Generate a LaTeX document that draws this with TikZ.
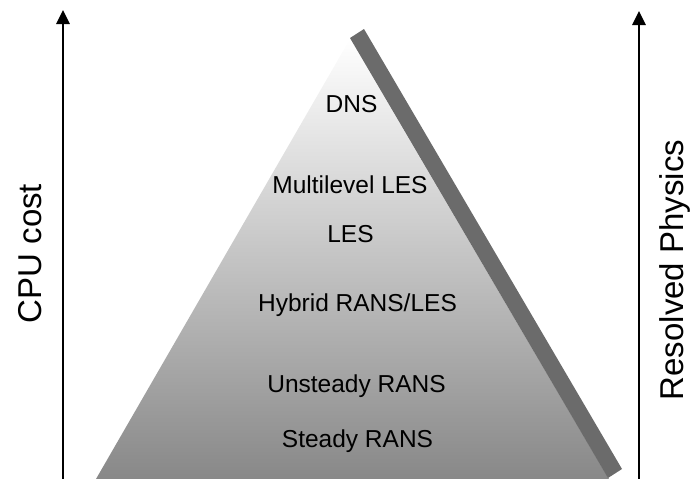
\documentclass[tikz,border=0pt]{standalone}
\usepackage{fontspec}
\setmainfont{Liberation Sans}
\usetikzlibrary{arrows.meta}
\definecolor{bandgray}{RGB}{107,107,107}
\definecolor{basegray}{RGB}{136,136,136}
\begin{document}
\begin{tikzpicture}[x=1pt,y=-1pt,
  lvl/.style={anchor=base,inner sep=0pt,font=\fontsize{24.5}{28}\selectfont},
  axlbl/.style={anchor=base,inner sep=0pt,rotate=90,font=\fontsize{33}{38}\selectfont},
  axarrow/.style={line width=2.8pt,-{Triangle[width=13pt,length=14pt]}}]
\useasboundingbox (0,0) rectangle (691,479);
% pyramid
\shade[top color=white,bottom color=basegray] (96,479) -- (350,39) -- (609,479) -- cycle;
% band
\fill[bandgray] (350,38) -- (364,29) -- (622,469) -- (608,478) -- cycle;
% axes
\coordinate (l0) at (63,479);
\coordinate (l1) at (63,10);
\coordinate (r0) at (639,479);
\coordinate (r1) at (639,11);
\draw[axarrow] (l0) -- (l1);
\draw[axarrow] (r0) -- (r1);
% labels
\node[axlbl] (cpu) at (41,253.5) {CPU cost};
\node[axlbl] (res) at (683.5,270) {Resolved Physics};
\node[lvl] (dns) at (351.5,112) {DNS};
\node[lvl] (mles) at (350,193) {Multilevel LES};
\node[lvl] (les) at (350.5,242) {LES};
\node[lvl] (hyb) at (357.5,311) {Hybrid RANS/LES};
\node[lvl] (urans) at (356.5,392) {Unsteady RANS};
\node[lvl] (srans) at (357.5,447) {Steady RANS};
\end{tikzpicture}
\end{document}
